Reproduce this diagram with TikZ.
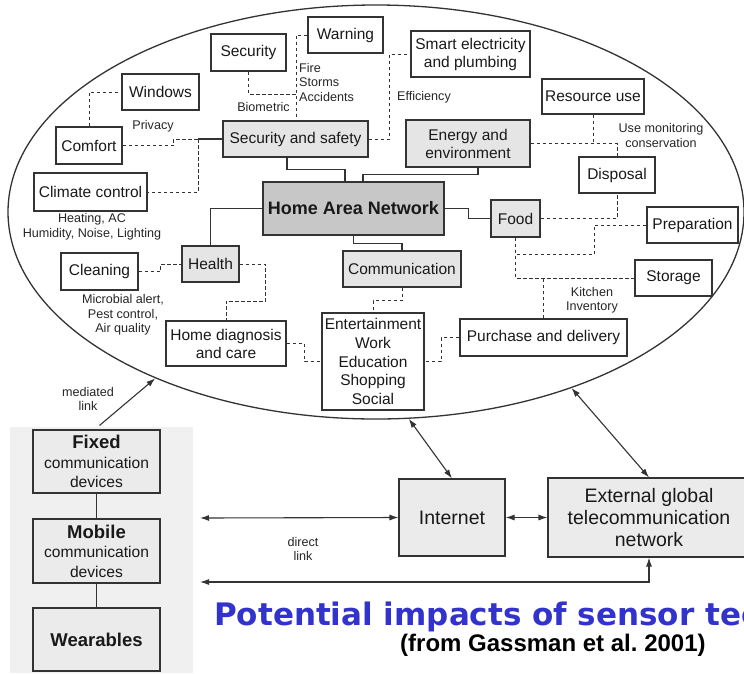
\documentclass[tikz,border=0pt]{standalone}
\usepackage{fontspec}
\setmainfont{Liberation Sans}
\newfontfamily\titlefont{DejaVu Sans}
\usetikzlibrary{shapes.geometric,arrows.meta}
\definecolor{boxgray}{gray}{0.9}
\definecolor{hangray}{gray}{0.78}
\definecolor{linegray}{gray}{0.2}
\definecolor{panelgray}{gray}{0.94}
\definecolor{devgray}{gray}{0.92}
\definecolor{titleblue}{RGB}{50,50,204}

\begin{document}
\begin{tikzpicture}[x=1pt,y=-1pt,
  box/.style={draw=linegray,line width=1.1pt,fill=white,inner sep=2pt,align=center,text=black!90,font=\fontsize{15.5}{18}\selectfont},
  gbox/.style={box,fill=boxgray},
  dev/.style={box,fill=devgray,font=\fontsize{15.6}{19.5}\selectfont},
  lbl/.style={inner sep=0pt,align=center,text=black!85,font=\fontsize{12.6}{14.5}\selectfont},
  dsh/.style={draw=linegray,line width=1pt,dash pattern=on 3.5pt off 2.5pt},
  sol/.style={draw=linegray,line width=1.1pt},
  lnk/.style={draw=linegray,line width=1.1pt,{Latex[length=9pt,width=6pt]}-{Latex[length=9pt,width=6pt]}},
  arw/.style={draw=linegray,line width=1.1pt,-{Latex[length=9pt,width=6pt]}}
]
  \useasboundingbox (0,0) rectangle (744,673);
  \fill[white] (0,0) rectangle (744,673);
  \clip (0,0) rectangle (744,673);

  \fill[panelgray] (10,427) rectangle (193,673);

  \node[ellipse,draw=linegray,line width=1.3pt,minimum width=736pt,minimum height=414pt,inner sep=0pt] (ell) at (376,212) {};

  \node[box,minimum width=75pt,minimum height=36pt] (warn) at (345.5,35) {Warning};
  \node[box,minimum width=75pt,minimum height=37pt] (sec) at (248.5,52.5) {Security};
  \node[box,minimum width=77pt,minimum height=36pt] (win) at (160.5,92) {Windows};
  \node[box,minimum width=66pt,minimum height=37pt] (comf) at (89,145.5) {Comfort};
  \node[box,minimum width=113pt,minimum height=38pt] (clim) at (90.5,192) {Climate control};
  \node[gbox,minimum width=145pt,minimum height=36pt] (ss) at (295.5,139) {Security and safety};
  \node[box,fill=hangray,minimum width=181pt,minimum height=53pt,font=\bfseries\fontsize{18}{20}\selectfont] (han) at (353.5,208.5) {Home Area Network};
  \node[gbox,minimum width=124pt,minimum height=47pt] (en) at (468,143.5) {Energy and\\environment};
  \node[box,minimum width=119pt,minimum height=46pt] (smart) at (470.5,54) {Smart electricity\\and plumbing};
  \node[box,minimum width=102pt,minimum height=35pt] (res) at (593,96.5) {Resource use};
  \node[box,minimum width=76pt,minimum height=36pt] (disp) at (617,175) {Disposal};
  \node[gbox,minimum width=49pt,minimum height=37pt] (food) at (515.5,218.5) {Food};
  \node[box,minimum width=91pt,minimum height=36pt] (prep) at (692.5,225) {Preparation};
  \node[box,minimum width=77pt,minimum height=36pt] (stor) at (673.5,278) {Storage};
  \node[box,minimum width=167pt,minimum height=37pt] (pur) at (543.5,337.5) {Purchase and delivery};
  \node[gbox,minimum width=118pt,minimum height=36pt] (comm) at (402,269) {Communication};
  \node[box,minimum width=102pt,minimum height=97pt,font=\fontsize{15.5}{18.75}\selectfont] (ent) at (373,361.5) {Entertainment\\Work\\Education\\Shopping\\Social};
  \node[gbox,minimum width=57pt,minimum height=36pt] (hlth) at (210.5,264) {Health};
  \node[box,minimum width=77pt,minimum height=37pt] (clean) at (99.5,271.5) {Cleaning};
  \node[box,minimum width=120pt,minimum height=45pt] (hd) at (226,343.5) {Home diagnosis\\and care};

  \node[lbl] (heat) at (92,226.5) {Heating, AC\\Humidity, Noise, Lighting};
  \node[lbl] (priv) at (153,126) {Privacy};
  \node[lbl,align=left,anchor=west] (fire) at (299,82) {Fire\\Storms\\Accidents};
  \node[lbl,anchor=east] (bio) at (290,107) {Biometric};
  \node[lbl] (eff) at (424,97) {Efficiency};
  \node[lbl] (usemon) at (661,135.5) {Use monitoring\\conservation};
  \node[lbl] (kitch) at (592,300) {Kitchen\\Inventory};
  \node[lbl] (micro) at (123,315) {Microbial alert,\\Pest control,\\Air quality};

  \coordinate (jc) at (198,139);
  \coordinate (jw) at (296,94);

  \draw[sol] ([xshift=-8.5pt]ss.south) -- ++(0,12) -| ([xshift=-8.5pt]han.north);
  \draw[sol] ([xshift=9.5pt]han.north) -- ++(0,-7) -| ([xshift=10pt]en.south);
  \draw[sol] (han.east) -- ++(24,0) |- (food.west);
  \draw[sol] (han.south) -- ++(0,8) -| (comm.north);
  \draw[sol] (han.west) -| (hlth.north);
  \draw[sol] (ss.west) -- (jc);

  \draw[dsh] (comf.east) -- ++(51,0) |- (jc);
  \draw[dsh] (jc) |- (clim.east);
  \draw[dsh] (comf.north) |- (win.west);
  \draw[dsh] (warn.west) -| (jw) -- (jw |- ss.north);
  \draw[dsh] (sec.south) |- (jw);
  \draw[dsh] (ss.east) -- ++(21,0) |- (smart.west);
  \draw[dsh] (en.east) -| (disp.north);
  \draw[dsh] (res.south) -- (res.south |- en.east);
  \draw[dsh] (food.east) -| (disp.south);
  \draw[dsh] (food.south) -- ++(0,17) -- ++(78.5,0) |- (prep.west);
  \draw[dsh] (food.south) |- (stor.west);
  \draw[dsh] (pur.north) -- (pur.north |- stor.west);
  \draw[dsh] (pur.west) -- ++(-18,0) |- (ent.east);
  \draw[dsh] (comm.south) -- ++(0,13) -| (ent.north);
  \draw[dsh] (clean.east) -- ++(22,0) |- (hlth.west);
  \draw[dsh] (hlth.east) -- ++(26,0) -- ++(0,37) -| (hd.north);
  \draw[dsh] (hd.east) -- ++(18,0) |- (ent.west);

  \node[dev,minimum width=127pt,minimum height=63pt] (fixed) at (96.5,461.5) {{\bfseries\fontsize{18.5}{19.5}\selectfont Fixed}\\communication\\devices};
  \node[dev,minimum width=127pt,minimum height=64pt] (mobile) at (96.5,551) {{\bfseries\fontsize{18.5}{19.5}\selectfont Mobile}\\communication\\devices};
  \node[dev,minimum width=127pt,minimum height=63pt,font=\bfseries\fontsize{18.5}{20}\selectfont] (wear) at (96.5,639.5) {Wearables};
  \node[dev,minimum width=106pt,minimum height=77pt,font=\fontsize{19.5}{22}\selectfont] (inet) at (452,517.5) {Internet};
  \node[dev,minimum width=202pt,minimum height=79pt,font=\fontsize{19.5}{22}\selectfont] (ext) at (649,517.5) {External global\\telecommunication\\network};

  \node[lbl] (med) at (88,399) {mediated\\link};
  \node[lbl] (dir) at (303,549) {direct\\link};

  \coordinate (dla) at (200,518);
  \coordinate (dlb) at (200,582);

  \draw[sol] (fixed.south) -- (mobile.north);
  \draw[sol] (mobile.south) -- (wear.north);
  \draw[arw] ([shift={(3pt,4pt)}]fixed.north) -- (ell.217);
  \draw[lnk] (ell.-81) -- (inet.north);
  \draw[lnk] (ell.-42) -- (ext.north);
  \draw[lnk] (dla) -- (inet.west);
  \draw[lnk] (inet.east) -- (ext.west);
  \draw[lnk] (dlb) -| (ext.south);

  \node[anchor=base west,inner sep=0pt,text=titleblue,font=\titlefont\bfseries\fontsize{31}{34}\selectfont] (title) at (214,625) {Potential impacts of sensor tec};
  \node[anchor=base west,inner sep=0pt,text=black,font=\bfseries\fontsize{24}{26}\selectfont] (src) at (400,651) {(from Gassman et al.\ 2001)};
\end{tikzpicture}
\end{document}
